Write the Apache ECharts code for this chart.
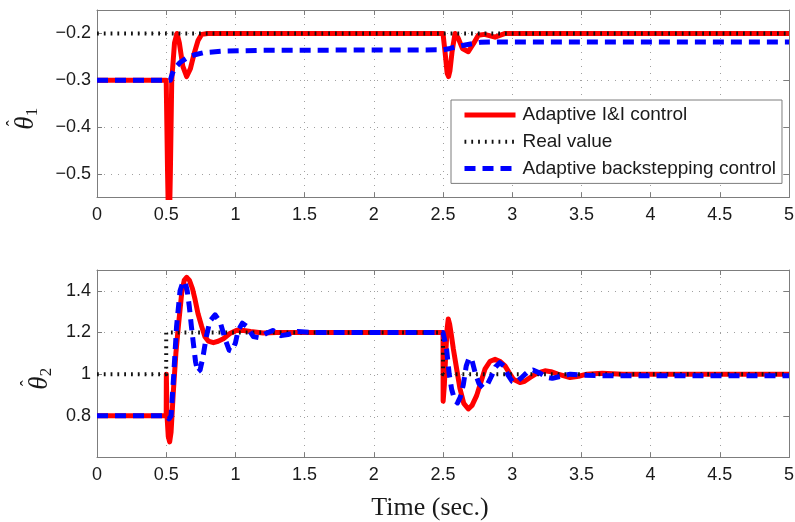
<!DOCTYPE html>
<html>
<head>
<meta charset="utf-8">
<script src="https://cdn.jsdelivr.net/npm/echarts@6/dist/echarts.min.js"></script>
<style>
  html, body { margin: 0; padding: 0; background: #ffffff; }
  #chart { width: 795px; height: 522px; }
</style>
</head>
<body>
<div id="chart"></div>
<script>
// ---- Parameter estimate theta_1 ----
const th1IITime  = [0, 0.5, 0.51, 0.52, 0.53, 0.54, 0.56, 0.578, 0.595, 0.62, 0.648, 0.675, 0.7, 0.73, 0.756, 0.8,
                    2.5, 2.515, 2.53, 2.54, 2.55, 2.565, 2.587, 2.61, 2.64, 2.683, 2.72, 2.755, 2.8, 2.876, 2.95, 5];
const th1IIValue = [-0.3, -0.3, -0.5, -0.65, -0.5, -0.3, -0.22, -0.2, -0.22, -0.27, -0.292, -0.275, -0.245, -0.215, -0.202, -0.2,
                    -0.2, -0.24, -0.285, -0.292, -0.28, -0.24, -0.2, -0.21, -0.232, -0.239, -0.222, -0.204, -0.202, -0.208, -0.2, -0.2];

const th1RealTime  = [0, 5];
const th1RealValue = [-0.2, -0.2];

const th1BsTime  = [0, 0.53, 0.545, 0.56, 0.6, 0.65, 0.7, 0.77, 0.9, 1.2, 2.5, 2.55, 2.6, 2.67, 2.77, 2.9, 5];
const th1BsValue = [-0.3, -0.3, -0.285, -0.275, -0.262, -0.252, -0.246, -0.241, -0.238, -0.236, -0.235,
                    -0.232, -0.228, -0.224, -0.219, -0.218, -0.218];

// ---- Parameter estimate theta_2 ----
const th2IITime  = [0, 0.5, 0.501, 0.506, 0.515, 0.525, 0.535, 0.551, 0.57, 0.588, 0.612, 0.63, 0.648, 0.668, 0.69, 0.708,
                    0.73, 0.756, 0.78, 0.804, 0.841, 0.875, 0.913, 0.96, 1.01, 1.06, 1.11, 1.2, 1.3,
                    2.5, 2.501, 2.51, 2.52, 2.53, 2.538, 2.548, 2.56, 2.575, 2.6, 2.623, 2.65, 2.683, 2.71, 2.743,
                    2.775, 2.803, 2.84, 2.876, 2.91, 2.948, 2.98, 3.008, 3.056, 3.09, 3.13, 3.18, 3.237, 3.28,
                    3.33, 3.418, 3.48, 3.54, 3.65, 3.8, 5];
const th2IIValue = [0.8, 0.8, 1.0, 0.8, 0.7, 0.675, 0.72, 0.91, 1.1, 1.23, 1.39, 1.45, 1.465, 1.45, 1.41, 1.36,
                    1.29, 1.23, 1.18, 1.159, 1.151, 1.158, 1.17, 1.195, 1.211, 1.21, 1.205, 1.198, 1.2,
                    1.2, 0.87, 0.95, 1.1, 1.22, 1.265, 1.24, 1.19, 1.12, 1.02, 0.93, 0.86, 0.833, 0.85, 0.897,
                    0.965, 1.024, 1.062, 1.071, 1.062, 1.04, 1.005, 0.976, 0.96, 0.966, 0.984, 1.005, 1.016, 1.012,
                    1.0, 0.984, 0.99, 1.0, 1.004, 1.0, 1.0];

const th2RealTime  = [0, 0.5, 0.5, 2.5, 2.5, 5];
const th2RealValue = [1.0, 1.0, 1.2, 1.2, 1.0, 1.0];

const th2BsTime  = [0, 0.5, 0.52, 0.535, 0.551, 0.575, 0.6, 0.62, 0.636, 0.652, 0.667, 0.682, 0.696, 0.712, 0.728, 0.745,
                    0.765, 0.79, 0.816, 0.853, 0.89, 0.925, 0.955, 0.975, 1.0, 1.02, 1.05, 1.08, 1.13, 1.17, 1.22,
                    1.27, 1.33, 1.38, 1.45, 1.55,
                    2.5, 2.51, 2.526, 2.545, 2.562, 2.585, 2.605, 2.625, 2.647, 2.668, 2.69, 2.71, 2.735, 2.76,
                    2.79, 2.82, 2.85, 2.88, 2.91, 2.94, 2.97, 3.0, 3.03, 3.07, 3.11, 3.15, 3.2, 3.25, 3.29, 3.35,
                    3.42, 3.5, 3.6, 4.0, 5];
const th2BsValue = [0.8, 0.8, 0.785, 0.8, 0.96, 1.23, 1.4, 1.44, 1.445, 1.4, 1.325, 1.23, 1.15, 1.06, 1.01, 1.02,
                    1.08, 1.18, 1.255, 1.285, 1.25, 1.17, 1.115, 1.11, 1.15, 1.21, 1.245, 1.23, 1.18, 1.175, 1.195,
                    1.21, 1.185, 1.19, 1.205, 1.2,
                    1.2, 1.17, 1.119, 1.0, 0.929, 0.875, 0.862, 0.89, 0.95, 1.04, 1.08, 1.065, 1.0, 0.955,
                    0.935, 0.95, 0.99, 1.035, 1.055, 1.04, 0.995, 0.965, 0.962, 0.985, 1.01, 1.02, 1.005, 0.985, 0.98, 0.99,
                    1.0, 0.995, 0.993, 0.993, 0.993];

const seriesNames = ['Adaptive I&I control', 'Real value', 'Adaptive backstepping control'];
const timeRange   = [0, 5];
const th1Range    = [-0.55, -0.15];
const th2Range    = [0.6, 1.5];

function pairs(ts, vs) { return ts.map((t, i) => [t, vs[i]]); }

const GRAY = '#7d7d7d';
const SERIF = '"Liberation Serif", "Times New Roman", serif';
const tickFont = { fontFamily: '"Liberation Sans", Arial, sans-serif', fontSize: 18, color: '#1a1a1a' };
const minus = v => String(v).replace('-', '\u2212');

function xAxisPair(gridIndex, withName) {
  const base = {
    type: 'value', gridIndex, min: timeRange[0], max: timeRange[1], interval: 0.5,
    axisLine: { show: true, onZero: false, lineStyle: { color: GRAY, width: 1 } },
    axisTick: { show: true, inside: true, length: 5, lineStyle: { color: GRAY } }
  };
  const bottom = Object.assign({}, base, {
    position: 'bottom',
    axisLabel: Object.assign({ margin: 9 }, tickFont),
    splitLine: { show: true, lineStyle: { color: '#a0a0a0', width: 1, type: [1, 6] } }
  });
  if (withName) {
    Object.assign(bottom, {
      name: 'Time (sec.)', nameLocation: 'middle', nameGap: 38,
      nameTextStyle: { fontFamily: SERIF, fontSize: 26, color: '#1a1a1a', padding: [0, 26, 0, 0] }
    });
  }
  const top = Object.assign({}, base, {
    position: 'top', axisLabel: { show: false }, splitLine: { show: false }
  });
  return [bottom, top];
}

// Left axis carries the label theta-hat with a subscript; the hat sits on its own line above the theta.
function yAxisPair(gridIndex, range, extra, sub, gap) {
  const base = {
    type: 'value', gridIndex, min: range[0], max: range[1],
    axisLine: { show: true, onZero: false, lineStyle: { color: GRAY, width: 1 } },
    axisTick: { show: true, inside: true, length: 5, lineStyle: { color: GRAY } }
  };
  const left = Object.assign({}, base, extra, {
    position: 'left',
    axisLabel: Object.assign({ margin: 6, showMinLabel: false, showMaxLabel: false, formatter: minus }, tickFont),
    splitLine: { show: true, lineStyle: { color: '#a0a0a0', width: 1, type: [1, 6] } },
    name: '{h|\u02C6}\n{t|\u03B8}{s|' + sub + '}', nameLocation: 'middle', nameGap: gap, nameRotate: 90,
    nameTextStyle: {
      padding: [0, 30, 0, 0],
      rich: {
        h: { fontFamily: SERIF, fontSize: 18, lineHeight: 6, padding: [0, 9, 0, 0], verticalAlign: 'top', color: '#1a1a1a' },
        t: { fontFamily: SERIF, fontStyle: 'italic', fontSize: 27, lineHeight: 30, verticalAlign: 'middle', color: '#1a1a1a' },
        s: { fontFamily: SERIF, fontSize: 17, lineHeight: 30, verticalAlign: 'bottom', color: '#1a1a1a' }
      }
    }
  });
  const right = Object.assign({}, base, extra, {
    position: 'right', axisLabel: { show: false }, splitLine: { show: false }
  });
  return [left, right];
}

function lineSeries(name, data, xi, yi, style, z) {
  return {
    name, type: 'line', data, xAxisIndex: xi, yAxisIndex: yi,
    symbol: 'none', showSymbol: false, clip: true, silent: true, z,
    itemStyle: { color: style.color },
    lineStyle: Object.assign({ join: 'round' }, style)
  };
}

const redStyle   = { color: '#ff0000', width: 5, type: 'solid' };
const blackStyle = { color: '#111111', width: 4, type: [1.8, 5], cap: 'butt' };
const blueStyle  = { color: '#0000ff', width: 5, type: [11, 7], cap: 'butt' };
const styles = [redStyle, blackStyle, blueStyle];

const chart = echarts.init(document.getElementById('chart'), null, { renderer: 'canvas' });
chart.setOption({
  backgroundColor: '#ffffff',
  animation: false,
  grid: [
    { left: 97, top: 10, width: 692, height: 187.5, containLabel: false, outerBoundsMode: 'none' },
    { left: 97, top: 270, width: 692, height: 187.5, containLabel: false, outerBoundsMode: 'none' }
  ],
  xAxis: [...xAxisPair(0, false), ...xAxisPair(1, true)],
  yAxis: [
    ...yAxisPair(0, th1Range, { splitNumber: 4, minInterval: 0.1, maxInterval: 0.1 }, '1', 56),
    ...yAxisPair(1, th2Range, { interval: 0.2 }, '2', 40)
  ],
  legend: {
    left: 451, top: 100, orient: 'vertical',
    data: seriesNames.map((n, i) => ({
      name: n,
      itemStyle: { opacity: 0 },
      lineStyle: { color: styles[i].color, width: styles[i].width, type: styles[i].type, cap: 'butt' }
    })),
    backgroundColor: '#ffffff', borderColor: GRAY, borderWidth: 1, borderRadius: 0,
    padding: [5, 6, 5, 11],
    itemWidth: 51, itemHeight: 14, itemGap: 6.7,
    textStyle: { fontFamily: '"Liberation Sans", Arial, sans-serif', fontSize: 19, lineHeight: 20, color: '#1a1a1a', padding: [0, 0, 0, 2] },
    selectedMode: false, z: 10
  },
  series: [
    lineSeries(seriesNames[0], pairs(th1IITime, th1IIValue), 0, 0, redStyle, 2),
    lineSeries(seriesNames[1], pairs(th1RealTime, th1RealValue), 0, 0, blackStyle, 3),
    lineSeries(seriesNames[2], pairs(th1BsTime, th1BsValue), 0, 0, blueStyle, 4),
    lineSeries(seriesNames[0], pairs(th2IITime, th2IIValue), 2, 2, redStyle, 2),
    lineSeries(seriesNames[1], pairs(th2RealTime, th2RealValue), 2, 2, blackStyle, 3),
    lineSeries(seriesNames[2], pairs(th2BsTime, th2BsValue), 2, 2, blueStyle, 4)
  ]
});
</script>
</body>
</html>
